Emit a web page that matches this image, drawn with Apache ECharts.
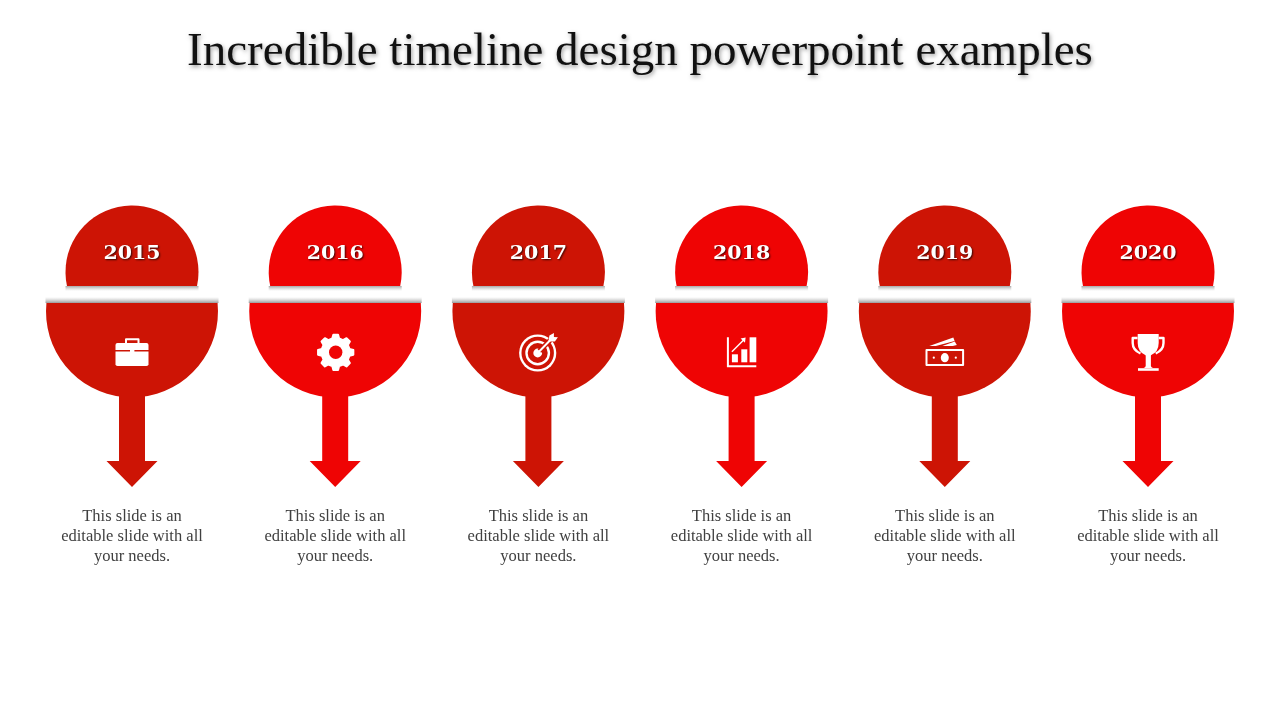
<!DOCTYPE html>
<html><head><meta charset="utf-8">
<style>html,body{margin:0;padding:0;background:#fff}#c{width:1280px;height:720px}</style>
<script src="https://cdn.jsdelivr.net/npm/echarts@6/dist/echarts.min.js"></script>
</head><body><div id="c"></div>
<script>
const titleText = 'Incredible timeline design powerpoint examples';
const years = ['2015','2016','2017','2018','2019','2020'];
const icons = ['briefcase','gear','target','chart','cash','trophy'];
const arrowTips = [487,487,487,487,487,487];
const captions = [
  'This slide is an\neditable slide with all\nyour needs.',
  'This slide is an\neditable slide with all\nyour needs.',
  'This slide is an\neditable slide with all\nyour needs.',
  'This slide is an\neditable slide with all\nyour needs.',
  'This slide is an\neditable slide with all\nyour needs.',
  'This slide is an\neditable slide with all\nyour needs.'
];
const DARK = '#cd1405', BRIGHT = '#ef0404';
const tones = [DARK,BRIGHT,DARK,BRIGHT,DARK,BRIGHT];

function fillP(d, c){ return {type:'path', shape:{pathData:d}, style:{fill:c||'#fff'}, silent:true}; }
function lineP(d, w, c){ return {type:'path', shape:{pathData:d}, style:{fill:'none',stroke:c||'#fff',lineWidth:w||2,lineJoin:'round'}, silent:true}; }
function circ(x,y,r){ return `M${x-r} ${y}A${r} ${r} 0 1 1 ${x+r} ${y}A${r} ${r} 0 1 1 ${x-r} ${y}Z`; }

function gearPath(){
  const n=8, R=17.8, r=14.2; let d='';
  for(let i=0;i<n;i++){
    const a=i/n*Math.PI*2-Math.PI/2, s=Math.PI/n;
    const pts=[[a-s*0.62,r],[a-s*0.34,R],[a+s*0.34,R],[a+s*0.62,r]];
    pts.forEach((q,j)=>{ d+=(i===0&&j===0?'M':'L')+(q[1]*Math.cos(q[0])).toFixed(2)+' '+(q[1]*Math.sin(q[0])).toFixed(2); });
  }
  return d+'Z';
}
function iconParts(name, tone){
  switch(name){
    case 'briefcase': return [
      lineP('M-6 343V339.2H6.5V343',2),
      fillP('M-14.5 343H14.5Q16.5 343 16.5 345V350H-16.5V345Q-16.5 343 -14.5 343Z'),
      fillP('M-16.5 351.4H16.5V364.2Q16.5 366 14.5 366H-14.5Q-16.5 366 -16.5 364.2Z'),
      fillP('M-2 349H2.4V353.4H-2Z')
    ];
    case 'gear': return [
      {type:'path', x:0.5, y:352.3, shape:{pathData:gearPath()}, style:{fill:'#fff',stroke:'#fff',lineWidth:2,lineJoin:'round'}, silent:true},
      fillP(circ(0.5,352.3,6.7),tone)
    ];
    case 'target': return [
      fillP(circ(-0.7,353,18.6)), fillP(circ(-0.7,353,16.2),tone),
      fillP(circ(-0.7,353,12.4)), fillP(circ(-0.7,353,10),tone),
      fillP(circ(-0.7,353,4.4)),
      lineP('M1 351L17 335',5,tone),
      lineP('M-0.7 353L12 340',2),
      fillP('M10 341.5L11 335.5L15.5 333L15.5 337L19.5 337.2L16.5 341.5Z')
    ];
    case 'chart': return [
      fillP('M-14.7 337.3H-12.7V365.3H14.7V367.3H-14.7Z'),
      fillP('M-9.7 354.3H-3.7V362.3H-9.7Z'),
      fillP('M-0.3 349.3H5.7V362.3H-0.3Z'),
      fillP('M8 337.3H14.7V362.3H8Z'),
      lineP('M-9.7 351.7L2.5 339.5',1.4),
      fillP('M-1 338.5L4 337.6L3.4 342.8Z')
    ];
    case 'cash': return [
      lineP('M-18.3 350H18.3V365H-18.3Z',2),
      fillP('M-4 357.7A4 4.6 0 1 1 4 357.7A4 4.6 0 1 1 -4 357.7Z'),
      fillP(circ(-11,357.7,1.1)), fillP(circ(11,357.7,1.1)),
      fillP('M-15.5 346L8.5 337.6L9.8 341L-9 346Z'),
      fillP('M-2.5 346L10 341.5L12 345L8 346Z')
    ];
    case 'trophy': return [
      fillP('M-10.3 334H10.7V343Q10.7 352 2.5 355.5H-2Q-10.3 352 -10.3 343Z'),
      lineP('M-10.5 338H-15.3V343Q-15.3 350 -7.5 353.5',2.4),
      lineP('M10.7 338H15.5V343Q15.5 350 7.7 353.5',2.4),
      fillP('M-2.3 355H2.9V366Q3.2 367.6 5 368H-4.4Q-2.6 367.6 -2.3 366Z'),
      fillP('M-10 368.2H10.7V370.8H-10Z')
    ];
  }
  return [];
}

function renderUnit(params, api){
  const i = api.value(0), tone = tones[i];
  const tip = api.value(1);
  const cx = api.coord([i, tip])[0];
  const shadeDown = {type:'linear',x:0,y:0,x2:0,y2:1,colorStops:[{offset:0,color:'rgba(130,130,130,.7)'},{offset:1,color:'rgba(180,180,180,0)'}]};
  const shadeUp = {type:'linear',x:0,y:0,x2:0,y2:1,colorStops:[{offset:0,color:'rgba(180,180,180,0)'},{offset:1,color:'rgba(120,120,120,.75)'}]};
  const lines = captions[i].split('\n');
  return {
    type:'group', x:cx, y:0, silent:true,
    children:[
      {type:'rect', shape:{x:-66.5,y:286,width:133,height:5}, style:{fill:shadeDown}},
      {type:'rect', shape:{x:-86.5,y:297,width:173,height:6}, style:{fill:shadeUp}},
      fillP('M-65 286A66.5 66.5 0 1 1 65 286Z', tone),
      fillP('M-85.58 303A86 86 0 1 0 85.58 303Z', tone),
      fillP(`M-13 390V461H-25.5L0 ${tip}L25.5 461H13V390Z`, tone),
      {type:'text', x:0, y:254, scaleX:1.14, style:{text:years[i], font:'bold 18px "DejaVu Serif"', fill:'#fff', textAlign:'center', textVerticalAlign:'middle', textShadowColor:'rgba(0,0,0,.75)', textShadowBlur:2, textShadowOffsetX:1, textShadowOffsetY:1}},
      ...iconParts(icons[i], tone),
      ...lines.map((t,k)=>({type:'text', x:0, y:517+20*k, style:{text:t, font:'16.5px "Liberation Serif"', fill:'#404040', textAlign:'center', textVerticalAlign:'middle'}}))
    ]
  };
}

const chart = echarts.init(document.getElementById('c'), null, {renderer:'canvas', width:1280, height:720});
chart.setOption({
  backgroundColor:'#fff',
  animation:false,
  title:{text:titleText, left:'center', top:24, textStyle:{fontFamily:'"Liberation Serif"', fontWeight:'normal', fontSize:47, color:'#111', textShadowColor:'rgba(0,0,0,.4)', textShadowBlur:4, textShadowOffsetX:1, textShadowOffsetY:2}},
  grid:{left:30.4, width:1219.2, top:0, height:720},
  xAxis:{type:'category', data:years, show:false},
  yAxis:{type:'value', min:0, max:720, inverse:true, show:false},
  tooltip:{show:false},
  series:[{type:'custom', renderItem:renderUnit, data:years.map((y,i)=>[i,arrowTips[i]]), encode:{x:0,y:1}, clip:false, silent:true}]
});
</script></body></html>
